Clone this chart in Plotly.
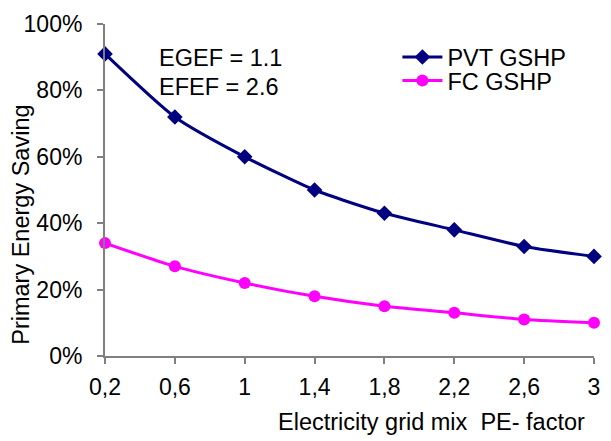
import plotly.graph_objects as go

x_vals = [0.2, 0.6, 1.0, 1.4, 1.8, 2.2, 2.6, 3.0]
x_labels = ["0,2", "0,6", "1", "1,4", "1,8", "2,2", "2,6", "3"]
pvt_gshp = [0.91, 0.72, 0.60, 0.50, 0.43, 0.38, 0.33, 0.30]
fc_gshp = [0.34, 0.27, 0.22, 0.18, 0.15, 0.13, 0.11, 0.10]
y_ticks = [0, 0.2, 0.4, 0.6, 0.8, 1.0]
y_labels = ["0%", "20%", "40%", "60%", "80%", "100%"]

FONT = "Liberation Sans, Arial, sans-serif"
TS = 23
LS = 23.5

fig = go.Figure()
fig.add_trace(go.Scatter(
    x=x_vals, y=pvt_gshp, name="PVT GSHP", mode="lines+markers",
    line=dict(color="#000080", width=3, shape="spline", smoothing=0.6),
    marker=dict(symbol="diamond", size=12, color="#000080"),
    cliponaxis=False, legend="legend"))
fig.add_trace(go.Scatter(
    x=x_vals, y=fc_gshp, name="FC GSHP", mode="lines+markers",
    line=dict(color="#FF00FF", width=3, shape="spline", smoothing=0.6),
    marker=dict(symbol="circle", size=12, color="#FF00FF"),
    cliponaxis=False, legend="legend2"))

leg_common = dict(xanchor="left", yanchor="middle", bgcolor="rgba(0,0,0,0)",
                  font=dict(size=LS), itemwidth=40)

fig.update_layout(
    width=611, height=441,
    margin=dict(l=105, r=11, t=17, b=85),
    paper_bgcolor="white", plot_bgcolor="white",
    font=dict(family=FONT, size=TS, color="black"),
    showlegend=True,
    legend=dict(x=(401 - 105) / 495, y=(356 - 51) / 339, **leg_common),
    legend2=dict(x=(401 - 105) / 495, y=(356 - 75) / 339, **leg_common),
    xaxis=dict(range=[0.2, 3.0], tickvals=x_vals, ticktext=x_labels,
               showgrid=False, zeroline=False, showline=True,
               linecolor="#808080", linewidth=2, ticks="outside",
               ticklen=6, tickcolor="#808080", tickwidth=2,
               tickfont=dict(size=TS), ticklabelstandoff=3),
    yaxis=dict(range=[0, 1.0], tickvals=y_ticks, ticktext=y_labels,
               showgrid=False, zeroline=False, showline=True,
               linecolor="#808080", linewidth=2, ticks="outside",
               ticklen=6, tickcolor="#808080", tickwidth=2,
               tickfont=dict(size=TS), ticklabelstandoff=10),
    annotations=[
        dict(text="EGEF = 1.1", xref="paper", yref="paper",
             x=(158 - 105) / 495, y=(356 - 52) / 339, xanchor="left",
             yanchor="middle", showarrow=False, font=dict(size=LS)),
        dict(text="EFEF = 2.6", xref="paper", yref="paper",
             x=(158 - 105) / 495, y=(356 - 81) / 339, xanchor="left",
             yanchor="middle", showarrow=False, font=dict(size=LS)),
        dict(text="Primary Energy Saving", xref="paper", yref="paper",
             x=(20 - 105) / 495, y=(356 - 222) / 339, textangle=-90,
             xanchor="center", yanchor="middle", showarrow=False,
             font=dict(size=LS)),
        dict(text="Electricity grid mix  PE- factor", xref="paper", yref="paper",
             x=(436 - 105) / 495, y=(356 - 423) / 339, xanchor="center",
             yanchor="middle", showarrow=False, font=dict(size=LS)),
    ],
)

fig.write_html("out.html")
